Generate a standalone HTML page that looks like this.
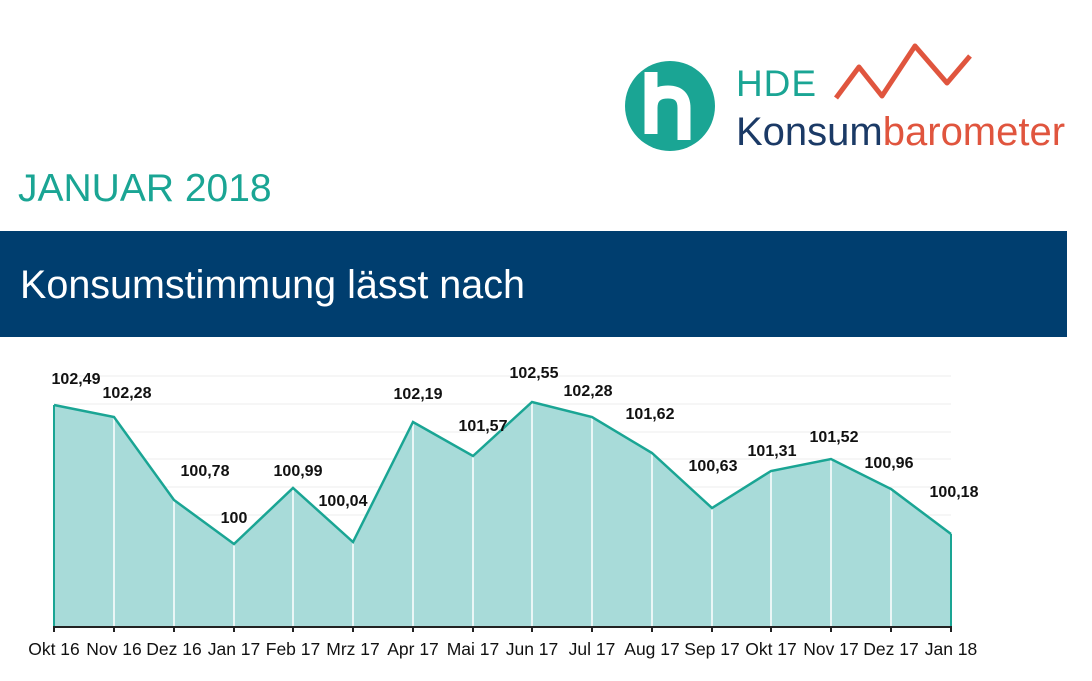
<!DOCTYPE html>
<html><head><meta charset="utf-8"><style>
body{margin:0;width:1092px;height:681px;background:#fff;overflow:hidden;font-family:"Liberation Sans",sans-serif;position:relative}
.t{position:absolute;white-space:nowrap}
</style></head><body>
<div class="t" style="left:18px;top:167px;font-size:39px;color:#1aa594">JANUAR 2018</div>
<div style="position:absolute;left:0;top:231px;width:1067px;height:106px;background:#003e6f"></div>
<div class="t" style="left:20px;top:263px;font-size:39.5px;color:#fff">Konsumstimmung lässt nach</div>
<svg style="position:absolute;left:0;top:0" width="1092" height="681">
<circle cx="670" cy="106" r="45" fill="#1aa594"/>
<path d="M651 72 V134 M651 108 Q651 92 668 92 Q684 92 684 108 V140" stroke="#fff" stroke-width="13" fill="none"/>
<text x="736" y="96" font-size="37" fill="#1aa594" font-family="Liberation Sans" textLength="80">HDE</text>
<text x="736" y="145" font-size="40" fill="#1b3a66" font-family="Liberation Sans">Konsum<tspan fill="#e0553e">barometer</tspan></text>
<polyline points="836,98 859,67 882,96 915,46 947,83 970,56" fill="none" stroke="#e0553e" stroke-width="5" stroke-linejoin="round"/>
<g stroke="#eee" stroke-width="1">
<line x1="54" x2="951" y1="376" y2="376"/><line x1="54" x2="951" y1="404" y2="404"/><line x1="54" x2="951" y1="432" y2="432"/><line x1="54" x2="951" y1="459" y2="459"/><line x1="54" x2="951" y1="487" y2="487"/><line x1="54" x2="951" y1="515" y2="515"/><line x1="54" x2="951" y1="543" y2="543"/><line x1="54" x2="951" y1="571" y2="571"/><line x1="54" x2="951" y1="599" y2="599"/>
</g>
<polygon fill="#a8dbd9" points="54,627 54,405 114,417 174,500 234,544 293,488 353,542 413,422 473,456 532,402 592,417 652,453 712,508 771,471 831,459 891,489 951,534 951,627"/>
<g stroke="#fff" stroke-width="1.5">
<line x1="114" x2="114" y1="417" y2="627"/><line x1="174" x2="174" y1="500" y2="627"/><line x1="234" x2="234" y1="544" y2="627"/><line x1="293" x2="293" y1="488" y2="627"/><line x1="353" x2="353" y1="542" y2="627"/><line x1="413" x2="413" y1="422" y2="627"/><line x1="473" x2="473" y1="456" y2="627"/><line x1="532" x2="532" y1="402" y2="627"/><line x1="592" x2="592" y1="417" y2="627"/><line x1="652" x2="652" y1="453" y2="627"/><line x1="712" x2="712" y1="508" y2="627"/><line x1="771" x2="771" y1="471" y2="627"/><line x1="831" x2="831" y1="459" y2="627"/><line x1="891" x2="891" y1="489" y2="627"/>
</g>
<polyline fill="none" stroke="#1aa594" stroke-width="2.5" points="54,405 114,417 174,500 234,544 293,488 353,542 413,422 473,456 532,402 592,417 652,453 712,508 771,471 831,459 891,489 951,534"/>
<line x1="54" x2="54" y1="405" y2="627" stroke="#1aa594" stroke-width="2"/>
<line x1="951" x2="951" y1="534" y2="627" stroke="#1aa594" stroke-width="2"/>
<line x1="53" x2="952" y1="627" y2="627" stroke="#222" stroke-width="2"/>
<g stroke="#222" stroke-width="2">
<line x1="54" x2="54" y1="627" y2="632"/><line x1="114" x2="114" y1="627" y2="632"/><line x1="174" x2="174" y1="627" y2="632"/><line x1="234" x2="234" y1="627" y2="632"/><line x1="293" x2="293" y1="627" y2="632"/><line x1="353" x2="353" y1="627" y2="632"/><line x1="413" x2="413" y1="627" y2="632"/><line x1="473" x2="473" y1="627" y2="632"/><line x1="532" x2="532" y1="627" y2="632"/><line x1="592" x2="592" y1="627" y2="632"/><line x1="652" x2="652" y1="627" y2="632"/><line x1="712" x2="712" y1="627" y2="632"/><line x1="771" x2="771" y1="627" y2="632"/><line x1="831" x2="831" y1="627" y2="632"/><line x1="891" x2="891" y1="627" y2="632"/><line x1="951" x2="951" y1="627" y2="632"/>
</g>
<g font-family="Liberation Sans" font-size="16" font-weight="bold" fill="#111" text-anchor="middle">
<text x="76" y="384">102,49</text><text x="127" y="398">102,28</text><text x="205" y="476">100,78</text><text x="234" y="523">100</text><text x="298" y="476">100,99</text><text x="343" y="506">100,04</text><text x="418" y="399">102,19</text><text x="483" y="431">101,57</text><text x="534" y="378">102,55</text><text x="588" y="396">102,28</text><text x="650" y="419">101,62</text><text x="713" y="471">100,63</text><text x="772" y="456">101,31</text><text x="834" y="442">101,52</text><text x="889" y="468">100,96</text><text x="954" y="497">100,18</text>
</g>
<g font-family="Liberation Sans" font-size="17.5" fill="#111" text-anchor="middle">
<text x="54" y="655">Okt 16</text><text x="114" y="655">Nov 16</text><text x="174" y="655">Dez 16</text><text x="234" y="655">Jan 17</text><text x="293" y="655">Feb 17</text><text x="353" y="655">Mrz 17</text><text x="413" y="655">Apr 17</text><text x="473" y="655">Mai 17</text><text x="532" y="655">Jun 17</text><text x="592" y="655">Jul 17</text><text x="652" y="655">Aug 17</text><text x="712" y="655">Sep 17</text><text x="771" y="655">Okt 17</text><text x="831" y="655">Nov 17</text><text x="891" y="655">Dez 17</text><text x="951" y="655">Jan 18</text>
</g>
</svg>
</body></html>
